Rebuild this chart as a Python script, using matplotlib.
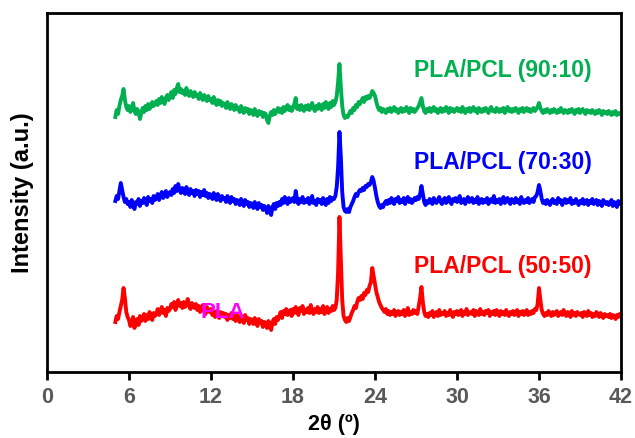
import numpy as np
import matplotlib.pyplot as plt

plt.rcParams['font.family'] = ['Liberation Sans', 'DejaVu Sans']

# 2-theta scan, 5 to 42 deg in 0.1 deg steps
two_theta = np.linspace(5.0, 42.0, 371)

# Intensities (a.u., curves already offset vertically), one row per degree
pla_pcl_50_50 = [
    50, 56, 53, 60, 66, 72, 84, 74, 60, 55,
    52, 46, 49, 55, 44, 50, 53, 47, 56, 51,
    54, 58, 51, 57, 53, 60, 55, 52, 59, 56,
    58, 63, 57, 61, 65, 59, 62, 56, 64, 61,
    63, 68, 65, 70, 62, 67, 72, 66, 69, 64,
    70, 65, 68, 73, 66, 63, 69, 67, 64, 68,
    62, 66, 60, 64, 67, 61, 58, 65, 62, 60,
    63, 57, 60, 55, 61, 58, 54, 60, 57, 59,
    55, 58, 52, 57, 54, 59, 53, 56, 51, 57,
    55, 50, 56, 53, 49, 57, 52, 54, 48, 53,
    52, 48, 54, 50, 46, 53, 49, 51, 45, 50,
    49, 44, 51, 47, 42, 50, 53, 48, 55, 52,
    56, 60, 54, 61, 58, 63, 57, 59, 62, 56,
    63, 59, 65, 60, 57, 64, 61, 66, 58, 62,
    60, 64, 59, 67, 61, 58, 63, 60, 65, 59,
    63, 60, 66, 58, 62, 65, 59, 63, 61, 66,
    62, 64, 72, 100, 155, 112, 72, 56, 52, 50,
    54, 51, 55, 59, 62, 66, 64, 70, 74, 72,
    76, 73, 79, 77, 82, 80, 86, 90, 104, 96,
    88, 80, 75, 70, 67, 64, 62, 60, 63, 58,
    61, 57, 60, 58, 62, 56, 59, 61, 57, 60,
    58, 62, 56, 59, 64, 57, 60, 58, 62, 59,
    61, 58, 66, 74, 85, 70, 60, 56, 58, 55,
    59, 57, 61, 55, 58, 60, 56, 62, 57, 59,
    58, 61, 56, 59, 57, 62, 58, 55, 60, 58,
    61, 57, 59, 62, 56, 60, 58, 63, 57, 59,
    60, 58, 62, 56, 61, 59, 57, 63, 58, 60,
    57, 61, 59, 62, 56, 60, 58, 61, 57, 62,
    59, 56, 61, 58, 60, 57, 62, 58, 56, 60,
    58, 61, 57, 59, 62, 56, 60, 58, 61, 57,
    59, 62, 57, 60, 58, 61, 59, 63, 62, 68,
    84, 72, 62, 58, 56, 59, 57, 61, 58, 56,
    60, 57, 59, 61, 56, 58, 60, 57, 62, 58,
    56, 60, 58, 55, 61, 57, 59, 56, 60, 58,
    57, 59, 55, 60, 58, 56, 61, 57, 59, 55,
    58, 56, 60, 57, 55, 59, 57, 54, 58, 56,
    57, 55, 58, 54, 57, 56, 53, 57, 55, 58,
    56,
]

pla_pcl_70_30 = [
    171, 176, 173, 181, 189, 182, 175, 170, 173, 168,
    170, 165, 172, 167, 163, 170, 168, 173, 166, 171,
    169, 174, 170, 167, 175, 171, 173, 169, 176, 172,
    174, 178, 172, 176, 180, 174, 177, 181, 175, 178,
    180, 177, 183, 179, 186, 181, 188, 182, 179, 184,
    182, 178, 185, 180, 177, 183, 179, 181, 176, 182,
    178, 181, 175, 180, 177, 182, 176, 179, 174, 178,
    177, 173, 179, 175, 172, 178, 174, 171, 176, 173,
    174, 170, 176, 172, 169, 175, 171, 173, 168, 172,
    171, 167, 173, 169, 166, 172, 168, 170, 165, 169,
    168, 164, 170, 166, 163, 169, 165, 167, 162, 166,
    164, 159, 166, 162, 157, 165, 168, 163, 169, 166,
    170, 167, 173, 169, 175, 171, 168, 174, 170, 172,
    174, 170, 181, 172, 168, 173, 170, 175, 169, 172,
    170, 174, 168, 172, 176, 169, 171, 167, 173, 170,
    172, 168, 174, 170, 167, 173, 169, 175, 171, 174,
    173, 176, 185, 205, 240, 215, 180, 165, 161, 160,
    163, 160, 165, 168, 171, 175, 178, 176, 180, 182,
    181, 184, 182, 186, 185, 188, 187, 190, 195, 191,
    184, 176, 170, 166, 164, 167, 165, 169, 171, 168,
    172, 169, 174, 170, 168, 173, 171, 175, 169, 172,
    170, 174, 168, 172, 175, 170, 173, 169, 171, 174,
    172, 175, 173, 178, 186, 178, 170, 167, 171, 169,
    173, 170, 168, 174, 171, 169, 172, 175, 170, 168,
    172, 174, 169, 171, 175, 170, 168, 173, 171, 174,
    170, 172, 176, 169, 171, 173, 168, 172, 175, 170,
    171, 174, 169, 172, 170, 175, 168, 171, 173, 169,
    172, 170, 174, 168, 171, 173, 170, 176, 169, 172,
    170, 173, 168, 172, 175, 169, 171, 174, 170, 168,
    173, 171, 169, 174, 170, 172, 168, 175, 171, 169,
    172, 170, 174, 169, 171, 173, 170, 175, 176, 180,
    187, 181, 173, 169, 171, 168, 172, 170, 167, 171,
    173, 169, 171, 168, 174, 170, 172, 167, 171, 173,
    169, 172, 170, 174, 168, 171, 169, 173, 170, 167,
    171, 169, 173, 168, 170, 172, 167, 171, 169, 173,
    168, 170, 172, 167, 171, 169, 166, 172, 170, 168,
    170, 167, 169, 172, 166, 170, 168, 165, 171, 168,
    169,
]

pla_pcl_90_10 = [
    255, 262, 258, 266, 272, 276, 283, 272, 265, 262,
    266, 260, 264, 269, 261, 258, 263, 260, 253, 259,
    264, 260, 266, 262, 268, 263, 265, 270, 266, 268,
    271, 267, 273, 269, 275, 271, 268, 274, 277, 272,
    276, 280, 274, 282, 278, 284, 288, 280, 283, 279,
    281, 277, 284, 279, 276, 281, 278, 275, 280, 276,
    277, 273, 279, 275, 272, 277, 274, 271, 276, 272,
    273, 269, 275, 270, 267, 272, 268, 271, 266, 269,
    268, 264, 270, 266, 263, 268, 265, 262, 267, 263,
    264, 260, 266, 262, 259, 264, 261, 263, 258, 262,
    261, 257, 263, 259, 256, 261, 258, 260, 255, 259,
    258, 252, 249, 256, 260, 257, 262, 258, 261, 264,
    260, 263, 259, 265, 261, 264, 267, 262, 265, 261,
    264, 268, 274, 263, 266, 262, 267, 264, 261, 266,
    263, 267, 262, 265, 269, 264, 261, 266, 263, 268,
    265, 262, 268, 264, 270, 266, 263, 269, 265, 271,
    267, 270, 276, 290, 308, 285, 266, 257, 254, 256,
    255, 258, 261, 259, 264, 262, 267, 265, 270, 268,
    271, 274, 270, 275, 273, 276, 274, 277, 281, 279,
    276, 270, 265, 262, 264, 260, 263, 261, 259, 263,
    261, 264, 260, 262, 265, 261, 263, 259, 262, 264,
    260, 263, 261, 265, 262, 259, 264, 261, 263, 260,
    262, 264, 266, 270, 274, 266, 261, 259, 263, 261,
    264, 260, 262, 265, 261, 263, 259, 262, 264, 260,
    263, 261, 265, 262, 259, 264, 261, 263, 260, 262,
    264, 261, 263, 260, 265, 262, 259, 263, 261, 264,
    260, 262, 265, 261, 263, 259, 264, 262, 260, 263,
    261, 264, 262, 259, 263, 265, 261, 262, 260, 264,
    262, 260, 263, 261, 264, 259, 262, 265, 261, 263,
    260, 263, 261, 264, 262, 259, 263, 261, 264, 260,
    262, 264, 261, 263, 260, 262, 264, 261, 263, 265,
    269, 264, 261, 259, 262, 260, 263, 261, 259, 262,
    260, 263, 261, 259, 262, 260, 264, 261, 259, 262,
    261, 259, 262, 260, 263, 261, 258, 262, 260, 263,
    259, 261, 263, 260, 258, 262, 260, 261, 259, 262,
    260, 258, 261, 259, 262, 260, 257, 261, 259, 260,
    258, 261, 259, 257, 260, 258, 261, 257, 259, 258,
    259,
]

series = [
    ("PLA/PCL (50:50)", pla_pcl_50_50, "#FF0000", 266),
    ("PLA/PCL (70:30)", pla_pcl_70_30, "#0000FF", 163),
    ("PLA/PCL (90:10)", pla_pcl_90_10, "#00B050", 71),
]

fig = plt.figure(figsize=(6.35, 4.38), dpi=100)
ax = fig.add_axes([47 / 635, 66 / 438, 574 / 635, 359 / 438])

for label, values, color, _ in series:
    ax.plot(two_theta, values, color=color, lw=2.8)

ax.set_xlim(0, 42)
ax.set_ylim(0, 359)

# series names placed to the right of the curves
for label, values, color, ypix in series:
    ax.text(503, 438 - ypix, label, transform=None, color=color,
            fontsize=16.5, fontweight="bold", ha="center", va="center")

ax.text(12.9, 60, "PLA", color="#FF00FF", fontsize=16, fontweight="bold",
        ha="center", va="center")

ax.set_xticks([0, 6, 12, 18, 24, 30, 36, 42])
ax.set_yticks([])
ax.tick_params(axis="x", direction="out", length=6, width=2, pad=5,
               labelsize=15.5, labelcolor="#595959")
for lab in ax.get_xticklabels():
    lab.set_fontweight("bold")
for sp in ax.spines.values():
    sp.set_linewidth(2)
    sp.set_color("black")

ax.set_xlabel("2θ (º)", fontsize=15.5, fontweight="bold", labelpad=4)
ax.set_ylabel("Intensity (a.u.)", fontsize=17, fontweight="bold", labelpad=9)

fig.savefig("out.png", dpi=100)
